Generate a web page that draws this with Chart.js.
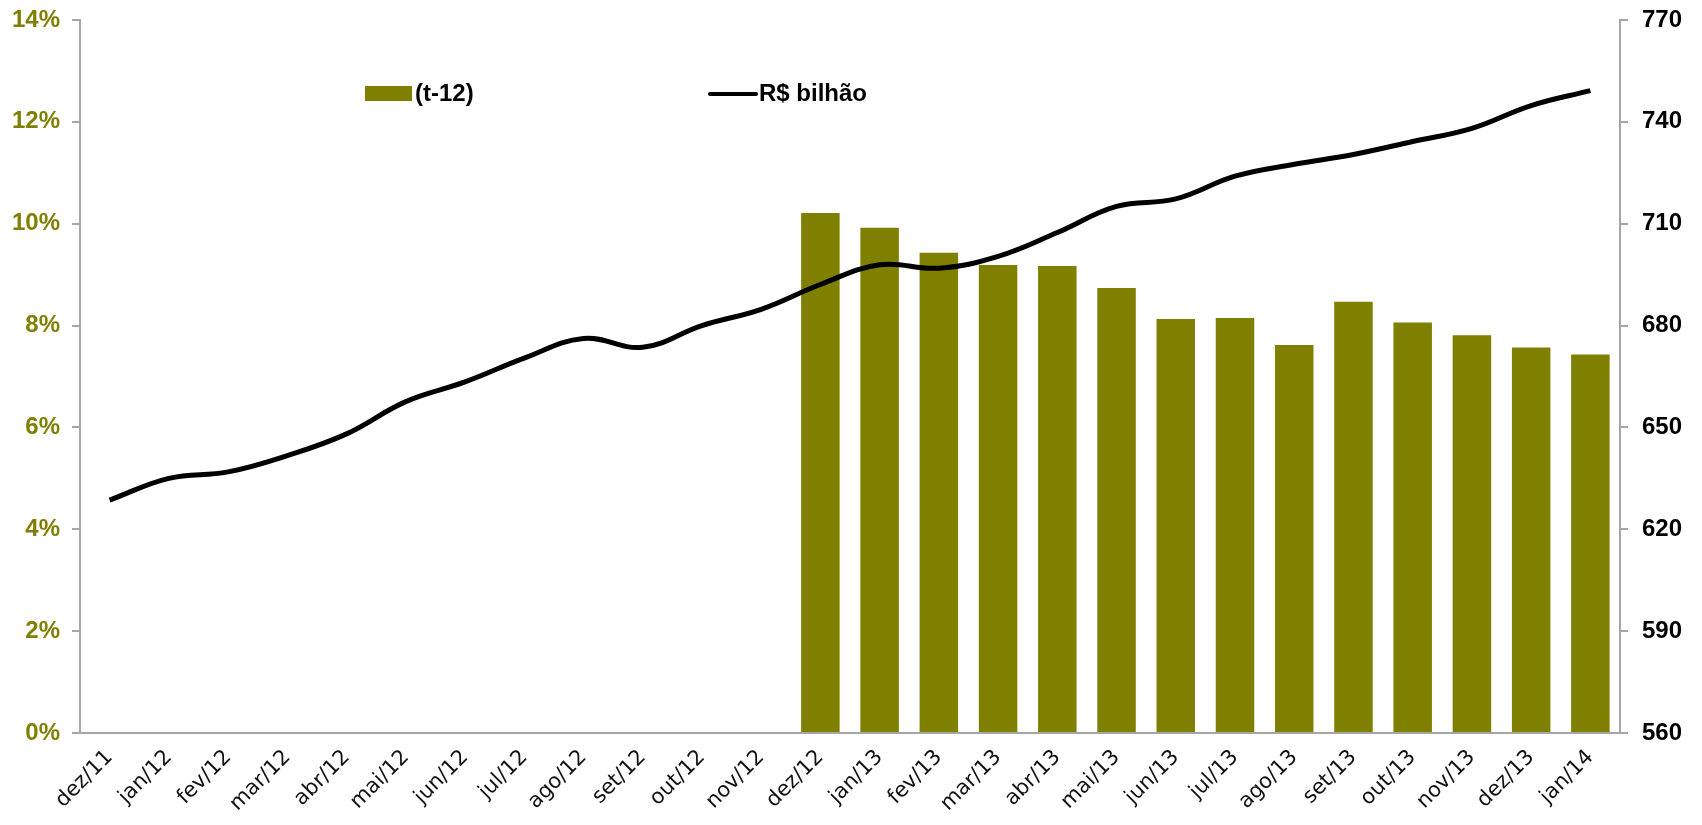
<!DOCTYPE html>
<html>
<head>
<meta charset="utf-8">
<script src="https://cdn.jsdelivr.net/npm/chart.js@4.4.1/dist/chart.umd.min.js"></script>
<style>
  html, body { margin: 0; padding: 0; background: #fff; }
  #wrap { width: 1702px; height: 825px; }
</style>
</head>
<body>
<div id="wrap"><canvas id="chart" width="1702" height="825"></canvas></div>
<script>
// Data
const months = ['dez/11', 'jan/12', 'fev/12', 'mar/12', 'abr/12', 'mai/12', 'jun/12', 'jul/12',
    'ago/12', 'set/12', 'out/12', 'nov/12', 'dez/12', 'jan/13', 'fev/13', 'mar/13', 'abr/13',
    'mai/13', 'jun/13', 'jul/13', 'ago/13', 'set/13', 'out/13', 'nov/13', 'dez/13', 'jan/14'];

// variação (t-12), em %
const growth = [null, null, null, null, null, null, null, null, null, null, null, null,
    10.21, 9.92, 9.43, 9.19, 9.17, 8.74, 8.13, 8.15, 7.62, 8.47, 8.06, 7.81, 7.57, 7.43];

// saldo, R$ bilhão
const stock = [628.6, 635.0, 636.9, 641.7, 648.1, 657.6, 663.4, 670.4, 676.2, 673.6, 680.0, 684.8,
    692.1, 697.9, 696.9, 700.4, 707.4, 715.1, 717.3, 724.0, 727.5, 730.4, 734.2, 738.1, 744.8, 749.2];

const olive = '#808000';
const axisGray = '#a6a6a6';

// Legend drawn inside the plot area, as in the original
const insideLegend = {
    id: 'insideLegend',
    afterDraw(chart) {
        const ctx = chart.ctx;
        const [bars, line] = chart.data.datasets;
        ctx.save();
        ctx.font = 'bold 24px "Liberation Sans", Arial, sans-serif';
        ctx.textBaseline = 'middle';
        ctx.fillStyle = bars.backgroundColor;
        ctx.fillRect(365, 86, 47, 15);
        ctx.fillStyle = '#000';
        ctx.fillText(bars.label, 415, 94);

        ctx.strokeStyle = line.borderColor;
        ctx.lineWidth = 4;
        ctx.lineCap = 'round';
        ctx.beginPath();
        ctx.moveTo(710, 94);
        ctx.lineTo(756, 94);
        ctx.stroke();
        ctx.fillText(line.label, 759, 94);
        ctx.restore();
    }
};

// keep the value axes from reserving extra room above the plot
function fitValueAxis(width) {
    return scale => {
        scale.width = width;
        scale.paddingTop = 10;
        scale.paddingBottom = 10;
    };
}

const ctx = document.getElementById('chart').getContext('2d');
new Chart(ctx, {
    type: 'bar',
    data: {
        labels: months,
        datasets: [{
            type: 'bar',
            label: '(t-12)',
            data: growth,
            yAxisID: 'y',
            backgroundColor: olive,
            categoryPercentage: 1,
            barPercentage: 0.65,
            order: 2
        }, {
            type: 'line',
            label: 'R$ bilhão',
            data: stock,
            yAxisID: 'y1',
            borderColor: '#000',
            borderWidth: 5,
            pointRadius: 0,
            tension: 0.4,
            fill: false,
            order: 1
        }]
    },
    options: {
        responsive: false,
        animation: false,
        layout: { padding: { top: 20, left: 0, right: 0, bottom: 0 } },
        plugins: {
            legend: { display: false },
            tooltip: { enabled: false }
        },
        scales: {
            x: {
                offset: true,
                grid: { display: false },
                border: { color: axisGray, width: 2 },
                ticks: {
                    autoSkip: false,
                    minRotation: 45,
                    maxRotation: 45,
                    padding: 4,
                    color: '#111',
                    font: { family: '"DejaVu Sans", sans-serif', size: 21 }
                },
                afterFit(scale) { scale.height = 92; }
            },
            y: {
                position: 'left',
                min: 0,
                max: 14,
                grid: { drawOnChartArea: false, tickLength: 8, color: axisGray, lineWidth: 2 },
                border: { color: axisGray, width: 2 },
                ticks: {
                    stepSize: 2,
                    padding: 12,
                    color: olive,
                    font: { family: '"Liberation Sans", Arial, sans-serif', size: 24, weight: 'bold' },
                    callback: v => v + '%'
                },
                afterFit: fitValueAxis(80)
            },
            y1: {
                position: 'right',
                min: 560,
                max: 770,
                grid: { drawOnChartArea: false, tickLength: 8, color: axisGray, lineWidth: 2 },
                border: { color: axisGray, width: 2 },
                ticks: {
                    stepSize: 30,
                    padding: 14,
                    color: '#000',
                    font: { family: '"Liberation Sans", Arial, sans-serif', size: 24, weight: 'bold' }
                },
                afterFit: fitValueAxis(82)
            }
        }
    },
    plugins: [insideLegend]
});
</script>
</body>
</html>
